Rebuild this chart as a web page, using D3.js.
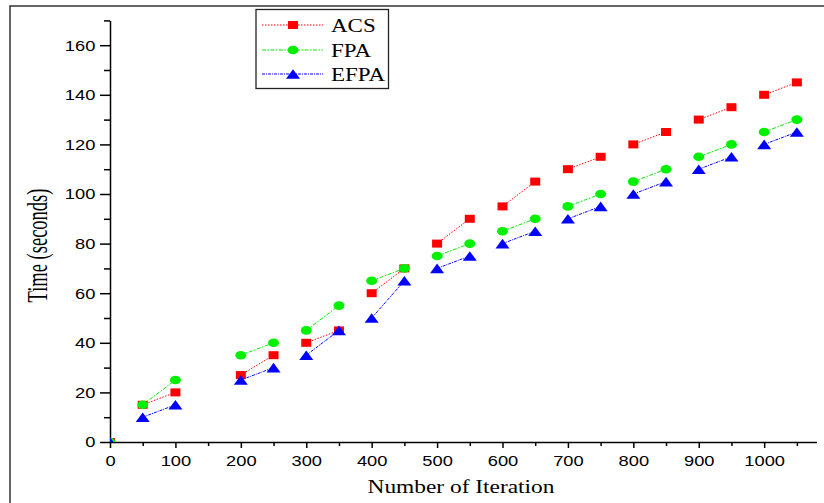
<!DOCTYPE html>
<html>
<head>
<meta charset="utf-8">
<script src="https://cdn.jsdelivr.net/npm/d3@7"></script>
<style>
  html, body { margin: 0; padding: 0; background: #fff; }
  svg { display: block; }
</style>
</head>
<body>
<script>
// ---- data ----
const xValues = [0, 50, 100, 200, 250, 300, 350, 400, 450, 500, 550, 600, 650, 700, 750, 800, 850, 900, 950, 1000, 1050];
const acsValues  = [0, 15, 20, 27, 35, 40, 45, 60, 70, 80, 90, 95, 105, 110, 115, 120, 125, 130, 135, 140, 145];
const fpaValues  = [0, 15, 25, 35, 40, 45, 55, 65, 70, 75, 80, 85, 90, 95, 100, 105, 110, 115, 120, 125, 130];
const efpaValues = [0, 10, 15, 25, 30, 35, 45, 50, 65, 70, 75, 80, 85, 90, 95, 100, 105, 110, 115, 120, 125];
const seriesNames = ["ACS", "FPA", "EFPA"];
const linkedPairs = [[50, 100], [200, 250], [300, 350], [400, 450], [500, 550], [600, 650], [700, 750], [800, 850], [900, 950], [1000, 1050]];
const yTickLabels = [0, 20, 40, 60, 80, 100, 120, 140, 160];
const yMinorTicks = [10, 30, 50, 70, 90, 110, 130, 150, 170];
const xTickLabels = [0, 100, 200, 300, 400, 500, 600, 700, 800, 900, 1000];
const xMinorTicks = [50, 150, 250, 350, 450, 550, 650, 750, 850, 950, 1050];
const xTitle = "Number of Iteration";
const yTitle = "Time (seconds)";

// ---- layout ----
const W = 824, H = 503;
const svg = d3.select("body").append("svg").attr("width", W).attr("height", H);
svg.append("rect").attr("width", W).attr("height", H).attr("fill", "#fff");

// outer frame
svg.append("rect").attr("x", 10).attr("y", 6).attr("width", 900).attr("height", 600)
  .attr("fill", "none").attr("stroke", "#333").attr("stroke-width", 1.5);

const x = d3.scaleLinear().domain([0, 1080]).range([110, 816.5]);
const y = d3.scaleLinear().domain([0, 170]).range([442, 20.4]);

const colors = {ACS: "#ff0000", FPA: "#00f000", EFPA: "#0000ff"};
const dashes = {ACS: "1.5,1.5", FPA: "4,1.5,1.5,1.5", EFPA: "3,1,1,1"};
const valuesBy = {ACS: acsValues, FPA: fpaValues, EFPA: efpaValues};

const tickFont = "'Liberation Sans', Arial, sans-serif";
const serif = "'Liberation Serif', 'Times New Roman', serif";
const fmt = d3.format("d");

// ---- axes ----
const yAxis = svg.append("g").attr("transform", `translate(${x(0)},0)`)
  .call(d3.axisLeft(y).tickValues(yTickLabels).tickFormat(fmt).tickSize(10).tickSizeOuter(0).tickPadding(2));
svg.append("g").attr("transform", `translate(${x(0)},0)`)
  .call(d3.axisLeft(y).tickValues(yMinorTicks).tickSize(6).tickSizeOuter(0).tickFormat(""))
  .select(".domain").remove();
const xAxis = svg.append("g").attr("transform", `translate(0,${y(0)})`)
  .call(d3.axisBottom(x).tickValues(xTickLabels).tickFormat(fmt).tickSize(6).tickSizeOuter(0).tickPadding(7));
svg.append("g").attr("transform", `translate(0,${y(0)})`)
  .call(d3.axisBottom(x).tickValues(xMinorTicks).tickSize(4).tickSizeOuter(0).tickFormat(""))
  .select(".domain").remove();

svg.selectAll(".domain, .tick line").attr("stroke", "#000").attr("stroke-width", 1.5);
[yAxis, xAxis].forEach(g => g.selectAll("text")
  .attr("font-family", tickFont).attr("font-size", 15).attr("fill", "#000")
  .attr("transform", "scale(1.22,1)"));

// titles
svg.append("text").attr("transform", "translate(461,493) scale(1.2,1)")
  .attr("text-anchor", "middle").attr("font-family", serif).attr("font-size", 19.5)
  .attr("fill", "#000").text(xTitle);
svg.append("text").attr("transform", "translate(47,245.5) scale(1.6,1) rotate(-90)")
  .attr("text-anchor", "middle").attr("font-family", serif).attr("font-size", 18.5)
  .attr("fill", "#000").text(yTitle);

// ---- markers ----
function drawMarker(g, name, cx, cy) {
  const c = colors[name];
  if (name === "ACS") {
    g.append("rect").attr("x", cx - 5).attr("y", cy - 4).attr("width", 10).attr("height", 8).attr("fill", c);
  } else if (name === "FPA") {
    g.append("ellipse").attr("cx", cx).attr("cy", cy).attr("rx", 5.5).attr("ry", 4.3).attr("fill", c);
  } else {
    g.append("path").attr("d", `M${cx - 7},${cy + 4.8}L${cx + 7},${cy + 4.8}L${cx},${cy - 4.8}Z`).attr("fill", c);
  }
}

// ---- plot ----
svg.append("clipPath").attr("id", "plotclip").append("rect")
  .attr("x", x(0)).attr("y", y(170)).attr("width", x(1080) - x(0)).attr("height", y(0) - y(170));
const plot = svg.append("g").attr("clip-path", "url(#plotclip)");
const line = d3.line().x(d => x(d[0])).y(d => y(d[1]));

seriesNames.forEach(name => {
  const vals = valuesBy[name];
  const pts = xValues.map((xv, i) => [xv, vals[i]]);
  const g = plot.append("g");
  linkedPairs.forEach(pair => {
    const seg = pts.filter(p => pair.includes(p[0]));
    g.append("path").attr("d", line(seg)).attr("fill", "none")
      .attr("stroke", colors[name]).attr("stroke-width", 1).attr("stroke-dasharray", dashes[name]);
  });
  pts.forEach(p => drawMarker(g, name, x(p[0]), y(p[1])));
});

// ---- legend ----
const lg = svg.append("g");
lg.append("rect").attr("x", 256).attr("y", 9.5).attr("width", 132.5).attr("height", 79)
  .attr("fill", "#fff").attr("stroke", "#222").attr("stroke-width", 1.3);
const legendY = [25, 50, 74];
seriesNames.forEach((name, i) => {
  const cy = legendY[i];
  lg.append("line").attr("x1", 262).attr("x2", 323).attr("y1", cy).attr("y2", cy)
    .attr("stroke", colors[name]).attr("stroke-width", 1).attr("stroke-dasharray", dashes[name]);
  drawMarker(lg, name, 293, cy);
  lg.append("text").attr("transform", `translate(331,${cy + 7}) scale(1.18,1)`)
    .attr("font-family", serif).attr("font-size", 19.5).attr("fill", "#000").text(name);
});
</script>
</body>
</html>
